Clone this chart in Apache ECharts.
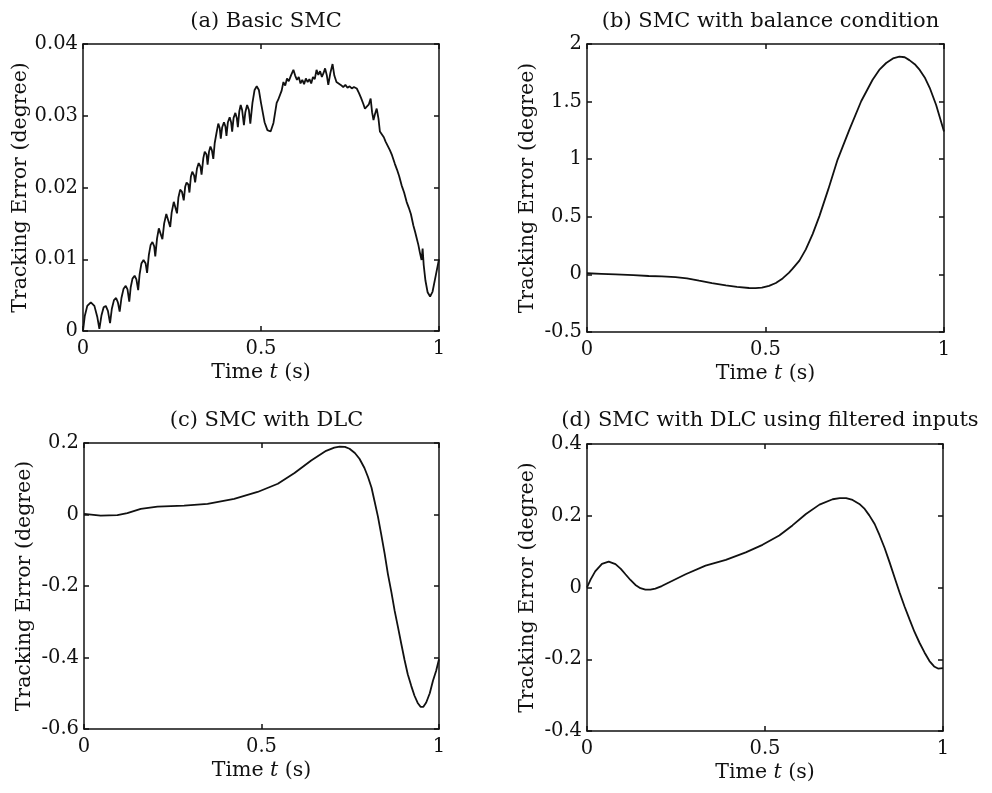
<!DOCTYPE html>
<html>
<head>
<meta charset="utf-8">
<script src="https://cdn.jsdelivr.net/npm/echarts@6/dist/echarts.min.js"></script>
<style>
html,body{margin:0;padding:0;background:#fff;}
#main{width:992px;height:793px;}
</style>
</head>
<body>
<div id="main"></div>
<script>
// ---------- Data ----------
const titles = ['(a) Basic SMC', '(b) SMC with balance condition', '(c) SMC with DLC', '(d) SMC with DLC using filtered inputs'];
const xTicks = [0, 0.5, 1];
const yTicksA = [0, 0.01, 0.02, 0.03, 0.04];
const yTicksB = [-0.5, 0, 0.5, 1, 1.5, 2];
const yTicksC = [-0.6, -0.4, -0.2, 0, 0.2];
const yTicksD = [-0.4, -0.2, 0, 0.2, 0.4];

const tA = [0.000,0.005,0.012,0.022,0.032,0.040,0.046,0.052,0.058,0.064,0.070,0.076,0.081,0.087,0.093,0.098,0.103,0.108,0.114,0.120,0.125,0.130,0.134,0.139,0.145,0.150,0.155,0.159,0.164,0.170,0.176,0.180,0.185,0.190,0.195,0.200,0.203,0.208,0.213,0.218,0.223,0.228,0.234,0.239,0.245,0.249,0.255,0.260,0.264,0.268,0.273,0.278,0.283,0.287,0.291,0.296,0.299,0.303,0.307,0.312,0.315,0.320,0.325,0.330,0.333,0.338,0.342,0.347,0.350,0.354,0.358,0.362,0.366,0.370,0.375,0.380,0.384,0.387,0.391,0.396,0.400,0.403,0.407,0.412,0.416,0.419,0.423,0.428,0.432,0.435,0.439,0.443,0.447,0.452,0.456,0.461,0.466,0.470,0.476,0.482,0.488,0.494,0.500,0.510,0.518,0.527,0.535,0.544,0.548,0.553,0.558,0.563,0.568,0.573,0.578,0.584,0.591,0.596,0.601,0.606,0.611,0.616,0.621,0.626,0.631,0.636,0.641,0.646,0.651,0.656,0.661,0.666,0.671,0.676,0.680,0.685,0.689,0.695,0.701,0.706,0.712,0.718,0.724,0.731,0.737,0.743,0.749,0.755,0.761,0.769,0.775,0.781,0.787,0.792,0.797,0.803,0.808,0.812,0.816,0.820,0.825,0.830,0.834,0.839,0.845,0.850,0.856,0.862,0.868,0.876,0.882,0.888,0.895,0.902,0.909,0.915,0.921,0.928,0.933,0.937,0.942,0.946,0.951,0.954,0.957,0.962,0.968,0.975,0.982,0.990,1.000];
const vA = [0.0000,0.0021,0.0035,0.0040,0.0035,0.0020,0.0003,0.0022,0.0033,0.0035,0.0028,0.0011,0.0031,0.0043,0.0046,0.0040,0.0027,0.0046,0.0059,0.0063,0.0058,0.0041,0.0061,0.0073,0.0077,0.0072,0.0057,0.0079,0.0094,0.0099,0.0094,0.0081,0.0106,0.0120,0.0124,0.0118,0.0104,0.0129,0.0143,0.0144,0.0128,0.0150,0.0163,0.0162,0.0145,0.0165,0.0180,0.0178,0.0164,0.0186,0.0197,0.0194,0.0182,0.0201,0.0207,0.0204,0.0193,0.0215,0.0222,0.0217,0.0207,0.0226,0.0234,0.0229,0.0218,0.0241,0.0250,0.0246,0.0232,0.0250,0.0257,0.0252,0.0240,0.0262,0.0276,0.0289,0.0283,0.0268,0.0284,0.0291,0.0285,0.0272,0.0291,0.0298,0.0291,0.0278,0.0297,0.0304,0.0297,0.0284,0.0306,0.0315,0.0308,0.0287,0.0305,0.0315,0.0308,0.0289,0.0318,0.0336,0.0341,0.0336,0.0318,0.0291,0.0280,0.0278,0.0290,0.0318,0.0322,0.0320,0.0335,0.0347,0.0342,0.0352,0.0348,0.0356,0.0364,0.0356,0.0350,0.0354,0.0345,0.0350,0.0344,0.0352,0.0347,0.0351,0.0345,0.0354,0.0351,0.0364,0.0357,0.0362,0.0354,0.0360,0.0366,0.0356,0.0343,0.0360,0.0372,0.0356,0.0347,0.0345,0.0343,0.0340,0.0343,0.0339,0.0341,0.0338,0.0340,0.0338,0.0332,0.0325,0.0317,0.0310,0.0308,0.0316,0.0324,0.0305,0.0294,0.0302,0.0310,0.0296,0.0278,0.0276,0.0270,0.0264,0.0258,0.0252,0.0245,0.0233,0.0225,0.0216,0.0203,0.0193,0.0180,0.0172,0.0163,0.0147,0.0138,0.0130,0.0120,0.0110,0.0099,0.0115,0.0092,0.0070,0.0054,0.0048,0.0055,0.0075,0.0100];

const tB = [0.000,0.040,0.080,0.130,0.173,0.210,0.248,0.280,0.314,0.350,0.389,0.420,0.454,0.472,0.490,0.510,0.529,0.548,0.566,0.576,0.595,0.613,0.632,0.651,0.676,0.702,0.735,0.768,0.800,0.820,0.838,0.857,0.875,0.890,0.903,0.918,0.932,0.946,0.960,0.978,1.000];
const vB = [0.010,0.005,0.000,-0.007,-0.014,-0.018,-0.023,-0.035,-0.055,-0.075,-0.095,-0.108,-0.118,-0.119,-0.115,-0.100,-0.075,-0.035,0.015,0.050,0.120,0.217,0.350,0.506,0.740,0.997,1.257,1.503,1.690,1.780,1.835,1.875,1.890,1.885,1.860,1.825,1.775,1.710,1.620,1.470,1.240];

const tC = [0.000,0.047,0.094,0.122,0.160,0.207,0.282,0.348,0.423,0.489,0.546,0.593,0.640,0.682,0.705,0.720,0.735,0.748,0.763,0.776,0.790,0.800,0.810,0.818,0.828,0.837,0.847,0.856,0.866,0.875,0.885,0.894,0.903,0.912,0.922,0.931,0.940,0.948,0.956,0.964,0.974,0.983,0.992,1.000];
const vC = [0.002,-0.003,-0.002,0.004,0.016,0.022,0.025,0.030,0.044,0.063,0.086,0.116,0.151,0.178,0.187,0.190,0.189,0.184,0.172,0.156,0.130,0.105,0.075,0.039,-0.006,-0.054,-0.110,-0.166,-0.218,-0.269,-0.318,-0.363,-0.407,-0.447,-0.480,-0.507,-0.527,-0.538,-0.538,-0.526,-0.500,-0.465,-0.437,-0.405];

const tD = [0.000,0.010,0.023,0.042,0.061,0.080,0.095,0.108,0.122,0.136,0.150,0.164,0.178,0.192,0.210,0.230,0.277,0.333,0.390,0.446,0.493,0.540,0.577,0.615,0.653,0.690,0.710,0.728,0.746,0.765,0.780,0.793,0.808,0.822,0.836,0.850,0.864,0.878,0.892,0.906,0.920,0.934,0.948,0.962,0.975,0.986,1.000];
const vD = [0.000,0.022,0.045,0.066,0.072,0.065,0.052,0.037,0.021,0.007,-0.002,-0.006,-0.006,-0.003,0.004,0.014,0.037,0.061,0.077,0.098,0.119,0.145,0.173,0.205,0.231,0.246,0.249,0.249,0.244,0.233,0.219,0.201,0.177,0.145,0.110,0.070,0.028,-0.014,-0.053,-0.089,-0.124,-0.154,-0.181,-0.205,-0.220,-0.226,-0.225];

// ---------- Layout ----------
const FONT = 'DejaVu Serif';
const FS_TICK = 19.5;
const FS_TITLE = 21;
const FS_NAME = 20.5;
const INK = '#111';
const grids = [
  {left: 83, top: 44, width: 356, height: 287, containLabel: false},
  {left: 587, top: 44, width: 357, height: 288, containLabel: false},
  {left: 84, top: 443, width: 355, height: 286, containLabel: false},
  {left: 587, top: 444, width: 356, height: 287, containLabel: false}
];
const yTickSets = [yTicksA, yTicksB, yTicksC, yTicksD];
const series = [[tA, vA], [tB, vB], [tC, vC], [tD, vD]];
const fmt = v => String(Math.round(v * 10000) / 10000);

const xAxes = [], yAxes = [], ser = [], titleComps = [];
const lineStyle = {color: INK, width: 1.5};
grids.forEach((g, i) => {
  const yt = yTickSets[i];
  const yInt = Math.round((yt[1] - yt[0]) * 10000) / 10000;
  const xInt = xTicks[1] - xTicks[0];
  xAxes.push({
    type: 'value', gridIndex: i, position: 'bottom', min: xTicks[0], max: xTicks[xTicks.length - 1], interval: xInt,
    axisLine: {show: true, onZero: false, lineStyle},
    axisTick: {show: true, inside: true, length: 5, lineStyle},
    splitLine: {show: false},
    axisLabel: {fontFamily: FONT, fontSize: FS_TICK, color: INK, margin: 8, formatter: fmt},
    name: '{n|Time }{i|t}{n| (s)}', nameLocation: 'middle', nameGap: 31,
    nameTextStyle: {rich: {n: {fontFamily: FONT, fontSize: FS_NAME, color: INK}, i: {fontFamily: FONT, fontSize: FS_NAME, fontStyle: 'italic', color: INK}}}
  });
  xAxes.push({
    type: 'value', gridIndex: i, position: 'top', min: xTicks[0], max: xTicks[xTicks.length - 1], interval: xInt,
    axisLine: {show: true, onZero: false, lineStyle},
    axisTick: {show: true, inside: true, length: 5, lineStyle},
    splitLine: {show: false}, axisLabel: {show: false}
  });
  yAxes.push({
    type: 'value', gridIndex: i, position: 'left', min: yt[0], max: yt[yt.length - 1], interval: yInt,
    axisLine: {show: true, onZero: false, lineStyle},
    axisTick: {show: true, inside: true, length: 5, lineStyle},
    splitLine: {show: false},
    axisLabel: {fontFamily: FONT, fontSize: FS_TICK, color: INK, margin: 5, formatter: fmt},
    name: 'Tracking Error (degree)', nameLocation: 'middle', nameGap: 49,
    nameTextStyle: {fontFamily: FONT, fontSize: FS_NAME, color: INK}
  });
  yAxes.push({
    type: 'value', gridIndex: i, position: 'right', min: yt[0], max: yt[yt.length - 1], interval: yInt,
    axisLine: {show: true, onZero: false, lineStyle},
    axisTick: {show: true, inside: true, length: 5, lineStyle},
    splitLine: {show: false}, axisLabel: {show: false}
  });
  const [ts, vs] = series[i];
  ser.push({
    type: 'line', xAxisIndex: i * 2, yAxisIndex: i * 2, showSymbol: false, symbol: 'none',
    lineStyle: {color: INK, width: 1.8}, data: ts.map((t, k) => [t, vs[k]]), z: 5
  });
  titleComps.push({
    text: titles[i], left: g.left + g.width / 2, top: i < 2 ? 6 : 405, textAlign: 'center',
    textStyle: {fontFamily: FONT, fontSize: FS_TITLE, fontWeight: 'normal', color: INK}
  });
});

const chart = echarts.init(document.getElementById('main'), null, {renderer: 'canvas'});
chart.setOption({
  animation: false,
  backgroundColor: '#fff',
  title: titleComps,
  grid: grids,
  xAxis: xAxes,
  yAxis: yAxes,
  series: ser
});
</script>
</body>
</html>
